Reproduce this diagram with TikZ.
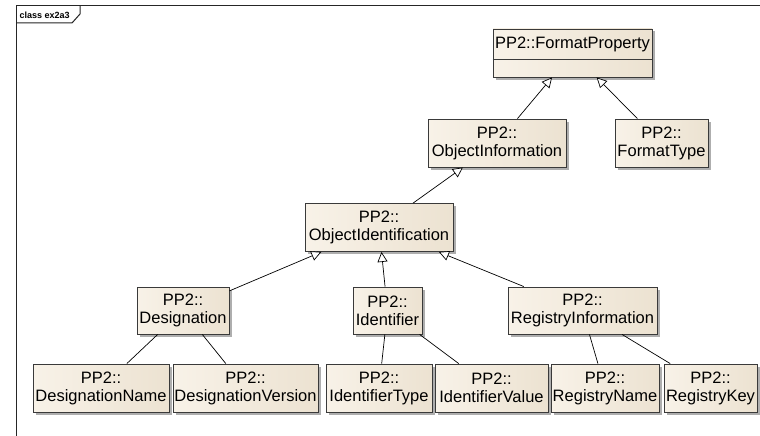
\documentclass[tikz,border=0pt]{standalone}
\usepackage{fontspec}
\setmainfont{Liberation Sans}
\usetikzlibrary{arrows.meta,shadows}

\definecolor{clsleft}{HTML}{F8F2E8}
\definecolor{clsright}{HTML}{ECE2D1}
\definecolor{clsborder}{HTML}{3A3A3A}
\definecolor{shadowgray}{HTML}{9A9A9A}

\tikzset{
  cls/.style={draw=clsborder, line width=0.9pt, left color=clsleft, right color=clsright,
    inner sep=0pt, align=center, font=\fontsize{16.5}{18}\selectfont,
    drop shadow={shadow xshift=2.5pt, shadow yshift=-2.5pt, fill=shadowgray, opacity=0.8}},
  gen/.style={draw=black, line width=0.7pt, -{Triangle[open, length=10pt, width=10pt, fill=white]}},
  assoc/.style={draw=black, line width=0.7pt},
  frameline/.style={draw=black!85, line width=1pt}
}

\begin{document}
\begin{tikzpicture}[x=1pt, y=-1pt]
  \fill[white] (0,0) rectangle (760,436);
  \useasboundingbox (0,0) rectangle (760,436);

  % diagram frame with its name tab
  \draw[frameline] (16,436) -- (16,6) -- (760,6);
  \draw[frameline] (16,23) -- (72,23) -- (80,14) -- (80,6);
  \node[anchor=base west, inner sep=0pt, font=\fontsize{9}{10}\bfseries\selectfont] (tab) at (19.5,19) {class ex2a3};

  % classes
  \node[cls, minimum width=159pt, minimum height=48pt] (fp) at (572.5,53) {};
  \node[inner sep=0pt, font=\fontsize{16.5}{18}\selectfont] (fplabel) at (572.5,44) {PP2::FormatProperty};
  \draw[draw=clsborder, line width=0.9pt] (fp.west |- 0,59) -- (fp.east |- 0,59);

  \node[cls, minimum width=138pt, minimum height=48pt] (oi) at (497,143) {PP2::\\ObjectInformation};
  \node[cls, minimum width=93pt, minimum height=48pt] (ft) at (661.5,143) {PP2::\\FormatType};

  \node[cls, minimum width=148pt, minimum height=48pt] (oid) at (379,227.5) {PP2::\\ObjectIdentification};

  \node[cls, minimum width=92pt, minimum height=47pt] (des) at (183,310.5) {PP2::\\Designation};
  \node[cls, minimum width=69pt, minimum height=47pt] (idf) at (387.5,310.5) {PP2::\\Identifier};
  \node[cls, minimum width=149pt, minimum height=47pt] (ri) at (582.5,310.5) {PP2::\\RegistryInformation};

  \node[cls, minimum width=136pt, minimum height=48pt] (dn) at (101,388) {PP2::\\DesignationName};
  \node[cls, minimum width=145pt, minimum height=48pt] (dv) at (245.5,388) {PP2::\\DesignationVersion};
  \node[cls, minimum width=106pt, minimum height=48pt] (it) at (379,388) {PP2::\\IdentifierType};
  \node[cls, minimum width=113pt, minimum height=48pt] (iv) at (491.5,388) {PP2::\\IdentifierValue};
  \node[cls, minimum width=108pt, minimum height=48pt] (rn) at (605,388) {PP2::\\RegistryName};
  \node[cls, minimum width=93pt, minimum height=48pt] (rk) at (710.5,388) {PP2::\\RegistryKey};

  % generalizations
  \draw[gen] (oi) -- (fp);
  \draw[gen] (ft) -- (fp);
  \draw[gen] (oid) -- (oi);
  \draw[gen] (des) -- (oid);
  \draw[gen] (idf) -- (oid);
  \draw[gen] (ri) -- (oid);

  % associations
  \draw[assoc] (des) -- (dn);
  \draw[assoc] (des) -- (dv);
  \draw[assoc] (idf) -- (it);
  \draw[assoc] (idf) -- (iv);
  \draw[assoc] (ri) -- (rn);
  \draw[assoc] (ri) -- (rk);
\end{tikzpicture}
\end{document}
